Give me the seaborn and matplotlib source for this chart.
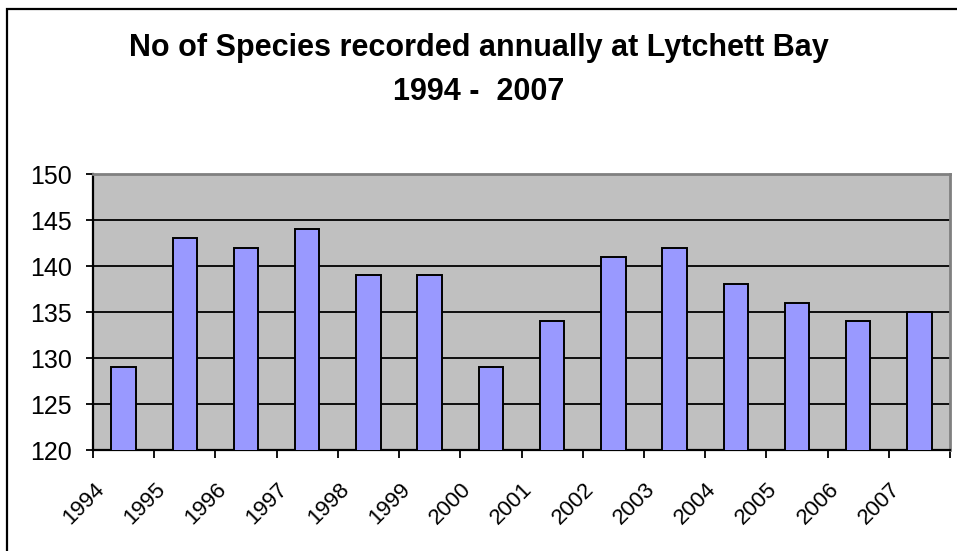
import numpy as np
import pandas as pd
import matplotlib
matplotlib.use("Agg")
import matplotlib.pyplot as plt
import matplotlib.patches as mpatches
import matplotlib.transforms as mtransforms
import seaborn as sns

years = ["1994", "1995", "1996", "1997", "1998", "1999", "2000",
         "2001", "2002", "2003", "2004", "2005", "2006", "2007"]
species = [129, 143, 142, 144, 139, 139, 129, 134, 141, 142, 138, 136, 134, 135]
yticks = [120, 125, 130, 135, 140, 145, 150]
title_text = "No of Species recorded annually at Lytchett Bay\n1994 -  2007"

sns.set_theme(style="white")
plt.rcParams["font.family"] = ["Liberation Sans", "DejaVu Sans"]
plt.rcParams["text.color"] = "black"
plt.rcParams["xtick.color"] = "black"
plt.rcParams["ytick.color"] = "black"
plt.rcParams["xtick.labelcolor"] = "black"
plt.rcParams["ytick.labelcolor"] = "black"

df = pd.DataFrame({"year": years, "species": species})

fig = plt.figure(figsize=(9.57, 5.51), dpi=100)
ax = fig.add_axes([93 / 957, 1 - 450 / 551, (950 - 93) / 957, (450 - 174) / 551])
ax.set_facecolor("#C0C0C0")

sns.barplot(data=df, x="year", y="species", color="#9999FF", edgecolor="black",
            linewidth=1.4, width=0.4, saturation=1, ax=ax, zorder=3)

ax.set_ylim(120, 150)
ax.set_xlim(-0.5, len(years) - 0.5)
ax.set_yticks(yticks)
ax.set_yticklabels([str(v) for v in yticks])
ax.yaxis.grid(True, color="black", linewidth=1.3, zorder=1)
ax.set_axisbelow(True)

ax.set_xticks(np.arange(len(years) + 1) - 0.5)
ax.set_xticklabels(years + [""], rotation=45, ha="right", va="center",
                   rotation_mode="anchor")
ax.set_xlabel("")
ax.set_ylabel("")

ax.tick_params(axis="y", which="major", direction="out", length=5, width=1.3,
               color="black", labelcolor="black", labelsize=18, pad=10, left=True)
ax.tick_params(axis="x", which="major", direction="out", length=6, width=1.3,
               color="black", labelcolor="black", labelsize=16, pad=20, bottom=True)

for side in ["left", "bottom"]:
    ax.spines[side].set_color("black")
    ax.spines[side].set_linewidth(1.6)
for side in ["top", "right"]:
    ax.spines[side].set_visible(True)
    ax.spines[side].set_color("#808080")
    ax.spines[side].set_linewidth(2)

offset = mtransforms.ScaledTranslation(8 / 100, 0, fig.dpi_scale_trans)
for lab in ax.get_xticklabels():
    lab.set_transform(lab.get_transform() + offset)

fig.text(0.5, 1 - 70 / 551, title_text, ha="center", va="center",
         fontsize=22, fontweight="bold", linespacing=1.62, color="black")

frame = mpatches.Rectangle((7 / 957, -0.1), 1.2, 1 - 9 / 551 + 0.1,
                           transform=fig.transFigure, fill=False,
                           edgecolor="black", linewidth=1.6, clip_on=False)
fig.add_artist(frame)

fig.savefig("out.png", dpi=100, facecolor="white")
